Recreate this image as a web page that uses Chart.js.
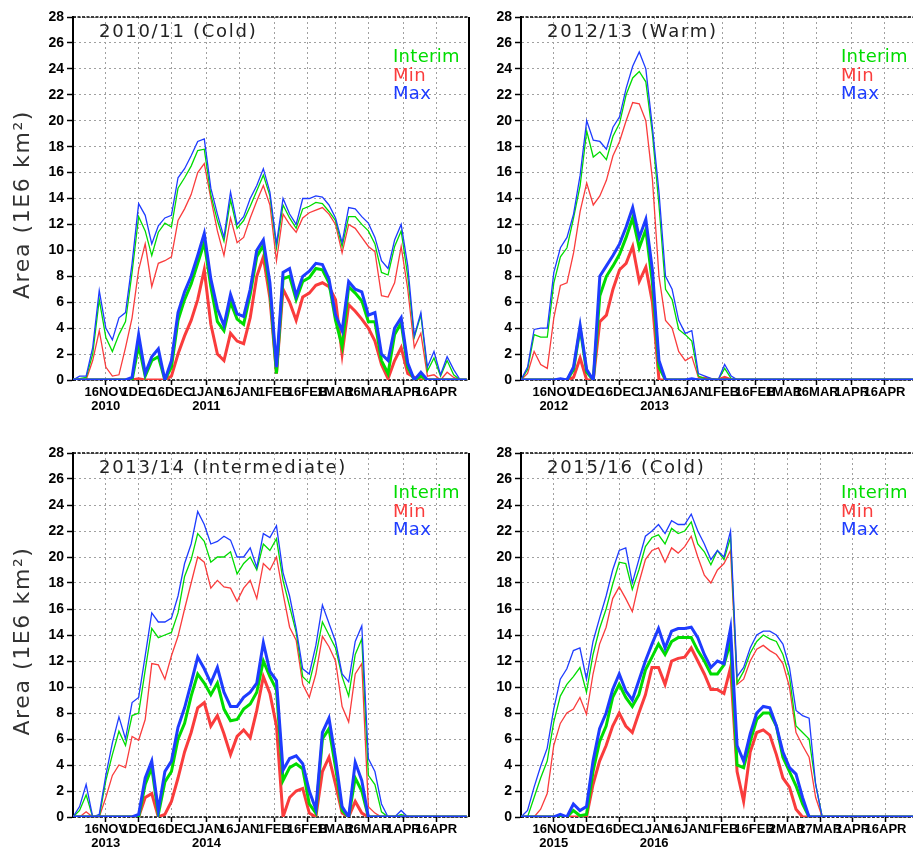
<!DOCTYPE html>
<html>
<head>
<meta charset="utf-8">
<script src="https://cdn.jsdelivr.net/npm/chart.js@4.4.1/dist/chart.umd.min.js"></script>
<style>
  body { margin: 0; background: #fff; }
  #wrap { position: relative; width: 913px; height: 850px; overflow: hidden; }
  canvas { position: absolute; }
</style>
</head>
<body>
<div id="wrap">
  <canvas id="c1" width="470" height="420" style="left:0;top:0"></canvas>
  <canvas id="c2" width="457" height="420" style="left:456px;top:0"></canvas>
  <canvas id="c3" width="470" height="430" style="left:0;top:420px"></canvas>
  <canvas id="c4" width="457" height="430" style="left:456px;top:420px"></canvas>
</div>
<script>
// days since 1 Nov
const days = [0,3,6,9,12,15,18,21,24,27,
  30,33,36,39,42,45,48,51,54,57,
  60,63,66,69,72,75,78,81,84,87,
  90,93,96,99,102,105,108,111,114,117,
  120,123,126,129,132,135,138,141,144,147,
  150,153,156,159,162,165,168,171,174,177,
  180];

const tickDays = [15,30,45,61,76,92,107,120,135,151,166];
const tickLabels = ['16NOV','1DEC','16DEC','1JAN','16JAN','1FEB','16FEB','1MAR','16MAR','1APR','16APR'];
const tickDaysLeap = [15,30,45,61,76,92,107,122,137,152,167];
const tickLabelsLeap = ['16NOV','1DEC','16DEC','1JAN','16JAN','1FEB','16FEB','2MAR','17MAR','1APR','16APR'];

// ---- 2010/11 ----
const thinMax1011 = [0,0.3,0.3,2.5,6.9,4.0,3.1,4.8,5.2,9.0,
  13.6,12.7,10.5,11.9,12.5,12.7,15.6,16.3,17.3,18.4,
  18.6,14.8,12.8,11.0,14.5,12.0,12.6,14.0,15.0,16.3,
  14.5,10.5,14.0,12.8,12.0,14.0,14.0,14.2,14.1,13.5,
  12.5,10.6,13.3,13.2,12.6,12.1,11.0,9.2,8.6,10.8,
  12.0,8.8,3.4,5.2,1.0,2.2,0.4,1.8,0.8,0,
  0];
const thinInterim1011 = [0,0.1,0.2,2.0,6.2,3.3,2.2,3.5,4.5,8.3,
  12.6,11.5,9.6,11.4,12.1,11.8,14.8,15.6,16.5,17.7,
  17.8,14.3,12.3,10.7,13.9,11.7,12.3,13.4,14.6,15.8,
  14.2,10.2,13.5,12.5,11.7,13.2,13.4,13.7,13.6,13.0,
  12.3,10.3,12.6,12.6,12.0,11.5,10.5,8.3,8.1,10.3,
  11.5,8.0,3.3,5.0,0.7,1.7,0.3,1.5,0.4,0,
  0];
const thinMin1011 = [0,0,0,1.5,3.8,1.0,0.3,0.4,2.5,4.8,
  8.5,10.5,7.2,9.0,9.2,9.5,12.3,13.2,14.3,16.0,
  16.7,14.0,11.5,9.6,12.5,10.6,11.0,12.5,13.8,15.0,
  13.5,9.2,12.8,12.0,11.4,12.5,12.9,13.1,13.3,12.8,
  12.0,9.8,12.0,11.7,11.0,10.3,9.9,6.5,6.4,7.5,
  10.3,7.0,2.5,3.6,0.3,0.4,0,0.6,0.2,0,
  0];
const thickMax1011 = [0,0,0,0,0,0,0,0,0,0.2,
  3.5,0.5,1.8,2.4,0,1.5,5.2,6.8,8.0,9.6,
  11.3,7.8,5.5,4.2,6.6,5.1,4.9,7.0,10.0,10.8,
  7.5,1.0,8.3,8.6,6.5,8.0,8.4,9.0,8.9,7.8,
  5.0,3.8,7.6,7.0,6.8,5.0,5.2,2.0,1.5,4.0,
  4.8,1.3,0,0.6,0,0,0,0,0,0,
  0];
const thickInterim1011 = [0,0,0,0,0,0,0,0,0,0,
  2.7,0.3,1.5,1.8,0,1.0,4.6,6.2,7.4,9.0,
  10.6,7.2,4.5,3.8,6.0,4.7,4.3,6.6,9.5,10.4,
  7.0,0.5,7.8,8.0,6.2,7.6,7.9,8.6,8.5,7.5,
  4.6,2.6,7.2,6.7,6.1,4.5,4.5,1.5,0.5,3.5,
  4.4,1.0,0,0.3,0,0,0,0,0,0,
  0];
const thickMin1011 = [0,0,0,0,0,0,0,0,0,0,
  0.1,0,0,0,0,0.3,2.0,3.4,4.6,6.2,
  8.5,4.3,2.0,1.5,3.6,3.0,2.8,4.8,8.0,9.5,
  6.3,0.5,7.0,6.0,4.6,6.4,6.7,7.3,7.5,7.2,
  6.2,2.0,5.8,5.3,4.7,4.0,3.0,1.2,0.1,1.5,
  2.5,0.5,0.2,0,0,0,0,0,0,0,
  0];

// ---- 2012/13 ----
const thinMax1213 = [0,1.0,3.9,4.0,4.0,8.3,10.2,11.0,12.8,15.8,
  20.0,18.5,18.4,17.8,19.5,20.3,22.5,24.2,25.3,24.0,
  19.5,14.5,8.0,7.0,4.6,3.6,3.8,0.5,0.3,0.1,
  0,1.2,0.3,0,0,0,0,0,0,0,
  0,0,0,0,0,0,0,0,0,0,
  0,0,0,0,0,0,0,0,0,0,
  0];
const thinInterim1213 = [0,0.8,3.5,3.3,3.3,7.5,9.5,10.2,12.5,15.0,
  19.2,17.2,17.6,17.0,18.8,19.8,22.0,23.3,23.8,23.0,
  19.0,13.5,7.0,6.2,3.9,3.5,3.0,0.3,0.1,0,
  0,0.9,0.1,0,0,0,0,0,0,0,
  0,0,0,0,0,0,0,0,0,0,
  0,0,0,0,0,0,0,0,0,0,
  0];
const thinMin1213 = [0,0.5,2.2,1.2,0.9,4.8,7.3,7.5,9.8,13.0,
  15.2,13.5,14.2,15.4,17.3,18.4,20.0,21.4,21.3,20.0,
  15.5,8.0,4.6,4.0,2.2,1.5,1.8,0.2,0.2,0.1,
  0,0.2,0,0,0,0,0,0,0,0,
  0,0,0,0,0,0,0,0,0,0,
  0,0,0,0,0,0,0,0,0,0,
  0];
const thickMax1213 = [0,0,0,0,0,0,0.1,0,1.0,4.2,
  0.8,0,8.0,8.8,9.6,10.5,11.8,13.3,11.0,12.4,
  8.5,1.5,0,0,0,0,0.1,0,0,0,
  0,0,0,0,0,0,0,0,0,0,
  0,0,0,0,0,0,0,0,0,0,
  0,0,0,0,0,0,0,0,0,0,
  0];
const thickInterim1213 = [0,0,0,0,0,0,0,0,0.8,4.0,
  0.6,0,6.5,8.0,8.8,9.7,11.0,12.5,10.2,11.6,
  7.5,1.0,0,0,0,0,0,0,0,0,
  0,0,0,0,0,0,0,0,0,0,
  0,0,0,0,0,0,0,0,0,0,
  0,0,0,0,0,0,0,0,0,0,
  0];
const thickMin1213 = [0,0,0,0,0,0,0,0,0.2,1.7,
  0,0,4.5,5.0,7.0,8.5,9.0,10.3,7.6,8.7,
  6.0,0,0,0,0,0,0,0,0,0,
  0,0.2,0,0,0,0,0,0,0,0,
  0,0,0,0,0,0,0,0,0,0,
  0,0,0,0,0,0,0,0,0,0,
  0];

// ---- 2013/14 ----
const thinMax1314 = [0,0.8,2.5,0,0.2,3.2,5.7,7.7,6.0,8.8,
  9.2,12.4,15.7,15.0,15.0,15.3,17.0,19.5,21.0,23.5,
  22.5,21.0,21.2,21.6,21.3,20.0,20.0,20.7,19.2,21.8,
  21.5,22.4,18.8,17.0,14.5,11.4,11.0,13.2,16.3,14.9,
  13.5,11.0,10.4,13.5,14.7,4.5,3.5,1.0,0,0,
  0.5,0,0,0,0,0,0,0,0,0,
  0];
const thinInterim1314 = [0,0.5,1.7,0,0,2.8,4.8,6.6,5.5,7.8,
  8.0,11.3,14.5,13.8,14.0,14.2,15.7,18.5,19.8,21.8,
  21.2,19.6,20.0,20.0,20.4,18.7,19.5,20.0,19.0,21.0,
  20.5,21.4,18.2,16.2,14.2,10.8,10.3,12.4,15.0,14.0,
  13.0,10.8,9.3,12.5,13.7,3.2,2.5,0.4,0,0,
  0.2,0,0,0,0,0,0,0,0,0,
  0];
const thinMin1314 = [0,0,0.4,0,0,1.5,3.2,4.0,3.8,6.2,
  5.9,7.5,11.8,11.7,10.6,12.4,13.9,16.0,18.0,20.0,
  19.6,17.6,18.2,17.7,17.6,16.6,17.6,18.2,16.8,19.5,
  19.0,20.0,17.2,14.6,13.6,10.2,9.2,11.0,13.9,13.1,
  12.0,8.5,7.3,11.0,11.8,0.8,0.3,0,0,0,
  0,0,0,0,0,0,0,0,0,0,
  0];
const thickMax1314 = [0,0,0,0,0,0,0,0,0,0,
  0.2,3.0,4.3,0.5,3.5,4.3,6.9,8.4,10.3,12.3,
  11.4,10.3,11.5,9.6,8.5,8.5,9.2,9.6,10.3,13.4,
  11.2,10.5,3.6,4.5,4.7,4.1,2.0,0.6,6.5,7.6,
  4.5,0.8,0,4.2,2.8,0,0,0,0,0,
  0,0,0,0,0,0,0,0,0,0,
  0];
const thickInterim1314 = [0,0,0,0,0,0,0,0,0,0,
  0,2.5,3.8,0.2,2.7,3.5,6.0,7.2,9.3,11.0,
  10.3,9.4,10.3,8.3,7.4,7.5,8.3,8.7,9.6,12.0,
  10.8,9.8,2.8,3.8,4.1,3.7,1.0,0.3,6.0,6.8,
  3.8,0.5,0,3.0,2.0,0,0,0,0,0,
  0,0,0,0,0,0,0,0,0,0,
  0];
const thickMin1314 = [0,0,0,0,0,0,0,0,0,0,
  0,1.5,1.8,0,0.2,1.2,3.0,5.0,6.5,8.4,
  8.8,7.0,7.8,6.4,4.8,6.2,6.7,6.1,8.2,10.8,
  9.5,7.0,0,1.5,2.0,2.2,0.3,0,3.5,4.6,
  2.5,0.3,0,1.2,0.3,0,0,0,0,0,
  0,0,0,0,0,0,0,0,0,0,
  0];

// ---- 2015/16 ----
const thinMax1516 = [0,0.5,2.3,3.9,5.3,8.3,10.6,11.4,12.8,13.0,
  10.6,13.5,15.3,17.0,19.0,20.5,20.7,18.0,19.8,21.6,
  22.0,22.5,21.8,22.8,22.5,22.5,23.3,22.0,21.0,19.8,
  20.5,20.0,22.0,10.8,11.5,13.0,14.0,14.3,14.3,14.0,
  13.3,11.5,8.2,7.8,7.6,2.5,0,0,0,0,
  0,0,0,0,0,0,0,0,0,0,
  0];
const thinInterim1516 = [0,0,1.5,3.0,4.3,7.3,9.3,10.2,10.8,11.5,
  9.6,12.5,14.5,16.0,17.9,19.6,19.5,17.5,19.0,20.8,
  21.5,21.7,21.0,22.2,21.8,22.0,22.7,21.0,20.4,19.4,
  20.5,19.8,21.5,10.3,11.2,12.6,13.5,14.0,13.7,13.5,
  12.5,10.8,7.0,6.5,6.0,2.5,0,0,0,0,
  0,0,0,0,0,0,0,0,0,0,
  0];
const thinMin1516 = [0,0,0,0.6,1.8,5.5,7.2,8.0,8.3,9.2,
  7.9,11.0,13.3,14.6,16.8,17.7,16.8,15.8,18.0,19.8,
  20.5,20.7,19.6,20.7,20.3,20.8,21.6,20.0,18.6,18.0,
  19.0,19.5,20.5,10.2,10.6,12.0,12.9,13.2,12.8,12.5,
  11.8,10.0,6.5,5.5,4.6,1.5,0,0,0,0,
  0,0,0,0,0,0,0,0,0,0,
  0];
const thickMax1516 = [0,0,0,0,0,0,0.2,0,1.0,0.5,
  0.8,4.3,6.8,8.0,9.8,11.0,9.7,9.0,10.5,12.0,
  13.3,14.5,13.0,14.3,14.5,14.5,14.6,13.8,12.5,11.5,
  12.0,11.8,14.5,5.5,4.3,6.4,8.0,8.5,8.4,7.0,
  5.0,3.8,3.3,1.5,0,0,0,0,0,0,
  0,0,0,0,0,0,0,0,0,0,
  0];
const thickInterim1516 = [0,0,0,0,0,0,0,0,0.5,0.1,
  0.2,3.5,5.8,7.0,9.2,10.2,9.2,8.5,9.4,11.3,
  12.3,13.3,12.5,13.5,13.8,13.8,13.8,12.8,12.0,11.0,
  11.0,11.7,13.5,4.0,3.8,5.8,7.5,8.0,8.0,7.0,
  4.6,3.5,2.4,1.0,0,0,0,0,0,0,
  0,0,0,0,0,0,0,0,0,0,
  0];
const thickMin1516 = [0,0,0,0,0,0,0,0,0,0,
  0,2.5,4.3,5.5,7.0,8.0,7.0,6.5,8.0,9.4,
  11.5,11.5,10.2,12.0,12.2,12.3,13.0,12.0,11.0,9.8,
  9.8,9.5,11.5,3.5,1.2,5.0,6.5,6.7,6.3,4.8,
  3.0,2.3,0.6,0,0,0,0,0,0,0,
  0,0,0,0,0,0,0,0,0,0,
  0];

const GREEN = 'rgb(0,220,0)';
const RED = 'rgb(250,60,60)';
const BLUE = 'rgb(30,60,255)';
const TICK_FONT = '"Liberation Sans Narrow", "Liberation Sans", Arial, sans-serif';
const TEXT_FONT = '"DejaVu Sans", sans-serif';

const deco = {
  id: 'deco',
  beforeDatasetsDraw(chart, args, o) {
    const { ctx, chartArea: a } = chart;
    ctx.save();
    ctx.strokeStyle = '#000';
    ctx.lineWidth = 1.5;
    ctx.setLineDash([3, 1.5]);
    ctx.beginPath();
    ctx.moveTo(a.left, a.top); ctx.lineTo(a.right, a.top);
    ctx.moveTo(a.left, a.bottom); ctx.lineTo(a.right, a.bottom);
    ctx.stroke();
    ctx.setLineDash([]);
    if (o.rightBorder) {
      ctx.lineWidth = 2;
      ctx.beginPath();
      ctx.moveTo(a.right, a.top); ctx.lineTo(a.right, a.bottom);
      ctx.stroke();
    }
    ctx.restore();
  },
  afterDraw(chart, args, o) {
    const { ctx, chartArea: a } = chart;
    ctx.save();
    ctx.textBaseline = 'alphabetic';
    ctx.textAlign = 'left';
    ctx.font = '18px ' + TEXT_FONT;
    ctx.fillStyle = '#222';
    ctx.letterSpacing = '1.7px';
    ctx.fillText(o.title, a.left + 26, a.top + 20);
    // legend
    ctx.letterSpacing = '0.3px';
    ctx.fillStyle = GREEN; ctx.fillText('Interim', a.left + 320, a.top + 45);
    ctx.fillStyle = RED;   ctx.fillText('Min', a.left + 320, a.top + 64);
    ctx.fillStyle = BLUE;  ctx.fillText('Max', a.left + 320, a.top + 82);
    if (o.yTitle) {
      ctx.translate(23, (a.top + a.bottom) / 2 + 6);
      ctx.rotate(-Math.PI / 2);
      ctx.textAlign = 'center';
      ctx.textBaseline = 'middle';
      ctx.font = '22px ' + TEXT_FONT;
      ctx.letterSpacing = '1.6px';
      ctx.fillStyle = '#333';
      ctx.fillText('Area (1E6 km\u00b2)', 0, 0);
    }
    ctx.restore();
  }
};

function line(label, vals, color, width, order) {
  return {
    label: label,
    data: days.map((d, i) => ({ x: d, y: vals[i] })),
    borderColor: color,
    borderWidth: width,
    pointRadius: 0,
    tension: 0,
    fill: false,
    order: order
  };
}

function makePanel(id, p) {
  const labelFor = {};
  p.ticks.forEach((d, i) => { labelFor[d] = p.labels[i]; });
  labelFor[p.ticks[0]] = [p.labels[0], p.years[0]];
  labelFor[p.ticks[3]] = [p.labels[3], p.years[1]];

  new Chart(document.getElementById(id), {
    type: 'line',
    data: {
      datasets: [
        line('Max', p.thickMax, BLUE, 3, 0),
        line('Interim', p.thickInterim, GREEN, 3, 1),
        line('Min', p.thickMin, RED, 3, 2),
        line('Max', p.thinMax, BLUE, 1.3, 3),
        line('Interim', p.thinInterim, GREEN, 1.3, 4),
        line('Min', p.thinMin, RED, 1.3, 5)
      ]
    },
    options: {
      responsive: false,
      animation: false,
      layout: { padding: { left: 0, top: p.top, right: p.right, bottom: 0 } },
      plugins: {
        legend: { display: false },
        tooltip: { enabled: false },
        deco: { title: p.title, yTitle: p.yTitle, rightBorder: p.rightBorder }
      },
      scales: {
        x: {
          type: 'linear',
          min: 0,
          max: p.xMax,
          afterBuildTicks: s => { s.ticks = p.ticks.map(v => ({ value: v })); },
          afterFit: s => { s.height = p.xHeight; },
          ticks: {
            autoSkip: false,
            maxRotation: 0,
            minRotation: 0,
            padding: 1,
            color: '#000',
            font: { family: TICK_FONT, size: 13, weight: 'bold', lineHeight: 1.05 },
            callback: v => labelFor[v]
          },
          grid: {
            color: '#a0a0a0',
            lineWidth: 1,
            tickLength: 5,
            tickColor: '#000',
            tickWidth: 1.5,
            tickBorderDash: []
          },
          border: { display: false, dash: [2, 3] }
        },
        y: {
          min: 0,
          max: 28,
          afterFit: s => { s.width = p.yWidth; },
          ticks: {
            stepSize: 2,
            padding: 3,
            color: '#000',
            font: { family: TICK_FONT, size: 14, weight: 'bold' }
          },
          grid: {
            color: '#a0a0a0',
            lineWidth: 1,
            tickLength: 6,
            tickColor: '#000',
            tickWidth: 1.5,
            tickBorderDash: []
          },
          border: { display: true, color: '#000', width: 2, dash: [2, 3] }
        }
      }
    },
    plugins: [deco]
  });
}

makePanel('c1', {
  title: '2010/11 (Cold)', years: ['2010', '2011'], ticks: tickDays, labels: tickLabels,
  thinMax: thinMax1011, thinInterim: thinInterim1011, thinMin: thinMin1011,
  thickMax: thickMax1011, thickInterim: thickInterim1011, thickMin: thickMin1011,
  top: 17, right: 1, xHeight: 40, yWidth: 73, xMax: 181, yTitle: true, rightBorder: true
});
makePanel('c2', {
  title: '2012/13 (Warm)', years: ['2012', '2013'], ticks: tickDays, labels: tickLabels,
  thinMax: thinMax1213, thinInterim: thinInterim1213, thinMin: thinMin1213,
  thickMax: thickMax1213, thickInterim: thickInterim1213, thickMin: thickMin1213,
  top: 17, right: 0, xHeight: 40, yWidth: 65, xMax: 179, yTitle: false, rightBorder: false
});
makePanel('c3', {
  title: '2013/14 (Intermediate)', years: ['2013', '2014'], ticks: tickDays, labels: tickLabels,
  thinMax: thinMax1314, thinInterim: thinInterim1314, thinMin: thinMin1314,
  thickMax: thickMax1314, thickInterim: thickInterim1314, thickMin: thickMin1314,
  top: 33, right: 1, xHeight: 33, yWidth: 73, xMax: 181, yTitle: true, rightBorder: true
});
makePanel('c4', {
  title: '2015/16 (Cold)', years: ['2015', '2016'], ticks: tickDaysLeap, labels: tickLabelsLeap,
  thinMax: thinMax1516, thinInterim: thinInterim1516, thinMin: thinMin1516,
  thickMax: thickMax1516, thickInterim: thickInterim1516, thickMin: thickMin1516,
  top: 33, right: 0, xHeight: 33, yWidth: 65, xMax: 179.6, yTitle: false, rightBorder: false
});
</script>
</body>
</html>
